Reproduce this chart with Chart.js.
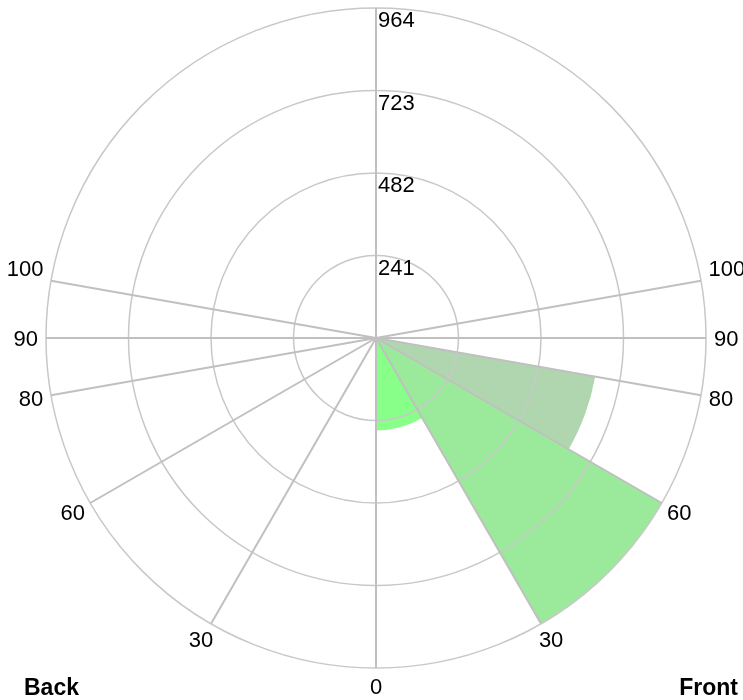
<!DOCTYPE html>
<html>
<head>
<meta charset="utf-8">
<script src="https://cdn.jsdelivr.net/npm/chart.js@4.4.1/dist/chart.umd.min.js"></script>
<style>
  html, body { margin: 0; padding: 0; background: #ffffff; }
  #wrap { width: 743px; height: 700px; position: relative; }
</style>
</head>
<body>
<div id="wrap"><canvas id="chart"></canvas></div>
<script>
// ---- data ----
// Angle ticks, degrees measured from the bottom (0) towards each side
const SPOKE_TICKS = [0, 30, 60, 80, 90, 100];
// Radial tick values
const RADIAL_TICKS = [241, 482, 723, 964];
// Side captions
const SIDE_LABELS = ['Back', 'Front'];
// Sectors (all on the Front side)
const SECTOR_START = [0, 30, 60];
const SECTOR_END = [30, 60, 80];
const SECTOR_VALUES = [270, 964, 650];
const SECTOR_COLORS = ['#88ff88', '#9be99b', '#b0d6b0'];

// ---- build the angular slots (10 degree steps, clockwise from the top) ----
const SLOT = 10;
const slotCount = 360 / SLOT;
const slotTheta = [];   // angle from the bottom for each slot
const slotSide = [];    // +1 Front (right), -1 Back (left), 0 on the vertical
for (let i = 0; i < slotCount; i++) {
  const phi = i * SLOT;
  if (phi <= 180) { slotTheta.push(180 - phi); slotSide.push(phi === 0 || phi === 180 ? 0 : 1); }
  else { slotTheta.push(phi - 180); slotSide.push(-1); }
}
const isSpoke = (i) => SPOKE_TICKS.includes(slotTheta[i]) || slotTheta[i] === 180;
const slotLabels = slotTheta.map((t) => (SPOKE_TICKS.includes(t) ? String(t) : ''));

// ---- polar-area slices with their own angular widths ----
const slices = SECTOR_START.map((s, k) => ({
  from: 180 - SECTOR_END[k], to: 180 - SECTOR_START[k], v: SECTOR_VALUES[k], c: SECTOR_COLORS[k]
})).sort((a, b) => a.from - b.from);
const sliceValues = [], sliceAngles = [], sliceColors = [];
let cur = 0;
for (const sl of slices) {
  if (sl.from > cur) { sliceValues.push(0); sliceAngles.push(sl.from - cur); sliceColors.push('rgba(0,0,0,0)'); }
  sliceValues.push(sl.v); sliceAngles.push(sl.to - sl.from); sliceColors.push(sl.c);
  cur = sl.to;
}
if (cur < 360) { sliceValues.push(0); sliceAngles.push(360 - cur); sliceColors.push('rgba(0,0,0,0)'); }

// pick a narrow face when it is installed (closer to the reference digits)
function hasFont(name) {
  const c = document.createElement('canvas').getContext('2d');
  c.font = '40px monospace';
  const a = c.measureText('1009643').width;
  c.font = '40px "' + name + '", monospace';
  const b = c.measureText('1009643').width;
  return Math.abs(a - b) > 0.5;
}
const NARROW = hasFont('Liberation Sans Narrow');
const NUM_FONT = NARROW ? '24px "Liberation Sans Narrow"' : '22px "Liberation Sans", Arial, sans-serif';
const SIDE_FONT = 'bold 23px "Liberation Sans", Arial, sans-serif';

const textPlugin = {
  id: 'polarText',
  afterDraw(chart) {
    const s = chart.scales.r;
    const ctx = chart.ctx;
    ctx.save();
    ctx.fillStyle = '#000000';
    ctx.font = NUM_FONT;
    ctx.textBaseline = 'alphabetic';
    // radial tick labels, just right of the vertical axis, below each ring
    ctx.textAlign = 'left';
    RADIAL_TICKS.forEach(v => {
      const d = s.getDistanceFromCenterForValue(v);
      ctx.fillText(String(v), s.xCenter + 2, s.yCenter - d + 19);
    });
    // angle labels outside the outer ring
    ctx.textAlign = 'center';
    for (let i = 0; i < slotCount; i++) {
      const lbl = slotLabels[i];
      if (!lbl) continue;
      const th = slotTheta[i];
      const p = s.getPointPosition(i, s.drawingArea + 8);
      const w = ctx.measureText(lbl).width;
      const rad = th * Math.PI / 180;
      const cx = p.x + slotSide[i] * (w / 2) * Math.sin(rad);
      const cy = p.y + (th < 90 ? 10 * Math.cos(rad) : th > 90 ? -11 : 0);
      ctx.fillText(lbl, cx, cy + 8);
    }
    // side captions
    ctx.font = SIDE_FONT;
    ctx.textAlign = 'left';
    ctx.fillText(SIDE_LABELS[0], 24, chart.height - 5);
    ctx.textAlign = 'right';
    ctx.fillText(SIDE_LABELS[1], chart.width - 5, chart.height - 5);
    ctx.restore();
  }
};

new Chart(document.getElementById('chart'), {
  type: 'polarArea',
  data: {
    labels: slotLabels,
    datasets: [{
      data: sliceValues,
      angle: sliceAngles,
      backgroundColor: sliceColors,
      borderWidth: 0
    }]
  },
  options: {
    responsive: true,
    maintainAspectRatio: false,
    animation: false,
    layout: { padding: { left: 46, right: 37, top: 8, bottom: 32 } },
    plugins: { legend: { display: false }, tooltip: { enabled: false }, title: { display: false } },
    scales: {
      r: {
        min: 0,
        max: RADIAL_TICKS[RADIAL_TICKS.length - 1],
        startAngle: 0,
        afterBuildTicks: (sc) => { sc.ticks = [0, ...RADIAL_TICKS].map(v => ({ value: v })); },
        ticks: { display: false },
        grid: { display: true, circular: true, color: '#c8c8c8', lineWidth: 1.5, z: 1 },
        angleLines: {
          display: true,
          color: (c) => (isSpoke(c.index) ? '#c0c0c0' : null),
          lineWidth: (c) => (isSpoke(c.index) ? 2 : 0)
        },
        pointLabels: { display: false }
      }
    }
  },
  plugins: [textPlugin]
});
</script>
</body>
</html>
